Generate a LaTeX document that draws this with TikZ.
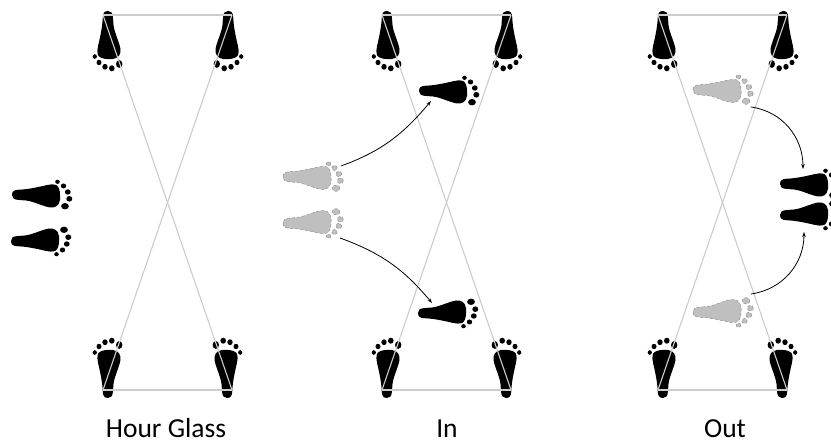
\documentclass[tikz,border=0pt]{standalone}
\usepackage{fontspec}
\setmainfont{Carlito}
\usetikzlibrary{arrows.meta}
\tikzset{
  footink/.style={fill=black},
  footgray/.style={footink/.style={fill=gray!50, draw=gray!95, densely dashed, line width=0.4pt}},
  foot/.pic={
    \path[footink] (0,0) .. controls (0,3.5) and (2,5) .. (6,5.2)
      .. controls (14,5.5) and (22,7) .. (30,8.8)
      .. controls (37,10.5) and (42,11.5) .. (45,9.5)
      .. controls (48,7) and (48.5,0) .. (48,-5)
      .. controls (47,-11) and (43,-13) .. (38,-12.5)
      .. controls (30,-11) and (22,-6.5) .. (14,-5.5)
      .. controls (8,-5) and (3,-5) .. (1.5,-3.5)
      .. controls (0.3,-2.5) and (0,-1.5) .. (0,0) -- cycle;
    \path[footink] (45.5,13.2) ellipse[x radius=2.3, y radius=2.1];
    \path[footink] (51.5,9) ellipse[x radius=2.7, y radius=2.5];
    \path[footink] (55.8,3) ellipse[x radius=2.9, y radius=2.7];
    \path[footink] (57.3,-3.8) ellipse[x radius=3, y radius=2.8];
    \path[footink] (53,-11.2) ellipse[x radius=3.9, y radius=3.2];
  },
  gridline/.style={draw=gray!40, line width=1.1pt},
  move/.style={-{Stealth[length=5pt,width=3.5pt]}, line width=0.8pt},
  lbl/.style={font=\fontsize{27.5}{32}\selectfont, anchor=base, inner sep=0pt}
}
\begin{document}
\begin{tikzpicture}[x=1pt, y=1pt]
\useasboundingbox (0,0) rectangle (831,443);
\fill[white] (0,0) rectangle (831,443);

% ---- feet on the three grids
\foreach \dx in {0,279,555} {
  \pic[rotate=-90, yscale=-1] at (108+\dx,432) {foot};
  \pic[rotate=-90] at (228+\dx,432) {foot};
  \pic[rotate=90] at (108+\dx,45) {foot};
  \pic[rotate=90, yscale=-1] at (227+\dx,45) {foot};
}

% ---- grid lines (drawn over the feet)
\foreach \dx [count=\i] in {0,279,555} {
  \coordinate (tl\i) at (103+\dx,428);
  \coordinate (tr\i) at (232+\dx,428);
  \coordinate (bl\i) at (103+\dx,53);
  \coordinate (br\i) at (232+\dx,53);
  \draw[gridline] (tl\i) -- (tr\i);
  \draw[gridline] (bl\i) -- (br\i);
  \draw[gridline] (tl\i) -- (br\i);
  \draw[gridline] (tr\i) -- (bl\i);
}

% ---- Hour Glass: pair of feet at the left
\pic at (12,248) {foot};
\pic[yscale=-1] at (11,202) {foot};

% ---- In
\pic[footgray] at (283,266) {foot};
\pic[footgray, yscale=-1] at (283,220) {foot};
\pic at (419,352) {foot};
\pic[yscale=-1] at (418,130) {foot};

% ---- Out
\pic[footgray] at (693,353) {foot};
\pic[footgray, yscale=-1] at (693,131) {foot};
\pic at (780,259) {foot};
\pic[yscale=-1] at (780,228) {foot};

% ---- arrows
\coordinate (ia1) at (341,277);
\coordinate (ib1) at (431,342);
\coordinate (ia2) at (340,205);
\coordinate (ib2) at (432,140);
\coordinate (oa1) at (751,336);
\coordinate (ob1) at (803,274);
\coordinate (oa2) at (751,149);
\coordinate (ob2) at (804,211);
\draw[move] (ia1) to[out=20, in=-130] (ib1);
\draw[move] (ia2) to[out=-20, in=130] (ib2);
\draw[move] (oa1) to[out=-8, in=90] (ob1);
\draw[move] (oa2) to[out=8, in=-90] (ob2);

% ---- labels
\node[lbl] (l1) at (166,5.5) {Hour Glass};
\node[lbl] (l2) at (447,5.5) {In};
\node[lbl] (l3) at (725,5.5) {Out};
\end{tikzpicture}
\end{document}
